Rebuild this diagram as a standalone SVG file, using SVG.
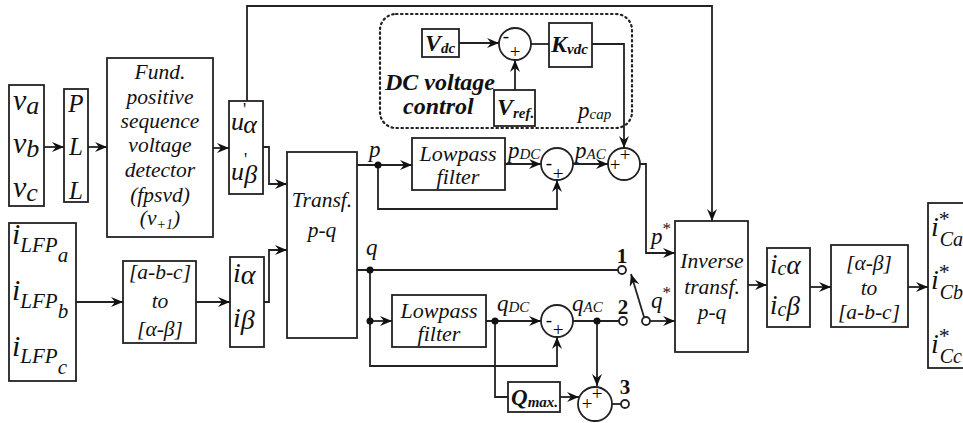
<svg xmlns="http://www.w3.org/2000/svg" width="963" height="423" viewBox="0 0 963 423">
<style>
.bx{fill:none;stroke:#222;stroke-width:1.8}
.ln{fill:none;stroke:#222;stroke-width:1.8}
.ar{marker-end:url(#ah)}
.sm{fill:#fff;stroke:#222;stroke-width:1.8}
.dot{fill:#111}
.t{font-family:'Liberation Serif','DejaVu Serif',serif;font-style:italic;fill:#111}
.n{font-style:normal}
.c{text-anchor:middle}
.b{font-weight:bold}
.sg{font-family:'Liberation Serif','DejaVu Serif',serif;fill:#000;font-size:19px;text-anchor:middle}
</style>
<defs>
<marker id="ah" viewBox="0 0 12 10" refX="12" refY="5" markerWidth="13" markerHeight="10" orient="auto" markerUnits="userSpaceOnUse">
<path d="M0,0 L12,5 L0,10 L4,5 z" fill="#111"/>
</marker>
</defs>
<rect width="963" height="423" fill="#fff"/>

<g id="connectors">
<path class="ln ar" d="M44,147 H64"/>
<path class="ln ar" d="M88,147 H107"/>
<path class="ln ar" d="M213,148 H229"/>
<path class="ln ar" d="M247,101 V6 H712 V221"/>
<path class="ln ar" d="M263,147 H269 V184 H287"/>
<path class="ln ar" d="M76,302 H123"/>
<path class="ln ar" d="M196,302 H230"/>
<path class="ln ar" d="M264,302 H269 V250 H287"/>
<path class="ln ar" d="M357,165 H412"/>
<path class="ln ar" d="M378,165 V209 H557 V180"/>
<path class="ln ar" d="M505,164 H541"/>
<path class="ln ar" d="M573,164 H608"/>
<path class="ln ar" d="M459,43 H499"/>
<path class="ln ar" d="M515,90 V60"/>
<path class="ln" d="M531,44 H549"/>
<path class="ln ar" d="M592,44 H624 V148"/>
<path class="ln ar" d="M640,164 H646 V253 H675"/>
<path class="ln" d="M357,270 H618"/>
<path class="ln ar" d="M370,270 V366 H557 V337"/>
<path class="ln ar" d="M370,321 H392"/>
<path class="ln ar" d="M486,321 H541"/>
<path class="ln" d="M495,321 V397 H508"/>
<path class="ln ar" d="M560,397 H579"/>
<path class="ln" d="M573,321 H619"/>
<path class="ln ar" d="M597,321 V386"/>
<path class="ln" d="M612,404 H621"/>
<path class="ln ar" d="M644,317 L631,274"/>
<path class="ln ar" d="M650,321 H675"/>
<path class="ln ar" d="M748,285 H767"/>
<path class="ln ar" d="M810,287 H831"/>
<path class="ln ar" d="M908,287 H928"/>
<circle class="dot" cx="378" cy="165" r="3.5"/>
<circle class="dot" cx="370" cy="270" r="3.5"/>
<circle class="dot" cx="370" cy="321" r="3.5"/>
<circle class="dot" cx="495" cy="321" r="3.5"/>
<circle class="dot" cx="597" cy="321" r="3.5"/>
<text class="t" x="369" y="157" font-size="23">p</text>
<text class="t" x="366" y="255" font-size="23">q</text>
<text class="t" x="508" y="158" font-size="23">p<tspan font-size="15" dy="1">DC</tspan></text>
<text class="t" x="575" y="158" font-size="23">p<tspan font-size="15" dy="1">AC</tspan></text>
<text class="t" x="578" y="118" font-size="23">p<tspan font-size="15" dy="1">cap</tspan></text>
<text class="t" x="497" y="311" font-size="23">q<tspan font-size="15" dy="1">DC</tspan></text>
<text class="t" x="572" y="311" font-size="23">q<tspan font-size="15" dy="1">AC</tspan></text>
<text class="t" x="651" y="244" font-size="23">p<tspan class="n" font-size="17" dy="-10">*</tspan></text>
<text class="t" x="651" y="308" font-size="23">q<tspan class="n" font-size="17" dy="-10">*</tspan></text>
</g>

<g id="n_vabc">
<rect class="bx" x="9" y="85" width="35" height="121"/>
<text class="t" x="13" y="110" font-size="30">v<tspan font-size="26" dy="4">a</tspan></text>
<text class="t" x="13" y="153" font-size="30">v<tspan font-size="26" dy="4">b</tspan></text>
<text class="t" x="13" y="197" font-size="30">v<tspan font-size="26" dy="4">c</tspan></text>
</g>

<g id="n_pll">
<rect class="bx" x="64" y="89" width="24" height="113"/>
<text class="t c" x="76" y="112" font-size="25">P</text>
<text class="t c" x="76" y="155" font-size="25">L</text>
<text class="t c" x="76" y="199" font-size="25">L</text>
</g>

<g id="n_fpsvd">
<rect class="bx" x="107" y="58" width="106" height="179"/>
<text class="t c" x="160" y="79" font-size="21.5">Fund.</text>
<text class="t c" x="160" y="104" font-size="21.5">positive</text>
<text class="t c" x="160" y="128" font-size="21.5">sequence</text>
<text class="t c" x="160" y="152" font-size="21.5">voltage</text>
<text class="t c" x="160" y="177" font-size="21.5">detector</text>
<text class="t c" x="160" y="202" font-size="21.5">(fpsvd)</text>
<text class="t c" x="160" y="225" font-size="21.5">(v<tspan font-size="14" dy="4">+1</tspan><tspan dy="-4">)</tspan></text>
</g>

<g id="n_ualpha">
<rect class="bx" x="229" y="101" width="34" height="93"/>
<text class="t" x="231" y="130" font-size="26">u<tspan class="n" font-size="18" dx="-1" dy="-14">'</tspan><tspan dx="-3" dy="17">α</tspan></text>
<text class="t" x="231" y="180" font-size="26">u<tspan class="n" font-size="18" dx="0" dy="-14">'</tspan><tspan dx="-3" dy="17">β</tspan></text>
</g>

<g id="n_ilfp">
<rect class="bx" x="9" y="223" width="67" height="158"/>
<text class="t" x="12" y="244" font-size="30">i<tspan font-size="21" dy="8">LFP</tspan><tspan font-size="21" dy="10">a</tspan></text>
<text class="t" x="12" y="300" font-size="30">i<tspan font-size="21" dy="8">LFP</tspan><tspan font-size="21" dy="10">b</tspan></text>
<text class="t" x="12" y="356" font-size="30">i<tspan font-size="21" dy="7">LFP</tspan><tspan font-size="21" dy="11">c</tspan></text>
</g>

<g id="n_abc2ab">
<rect class="bx" x="123" y="261" width="73" height="82"/>
<text class="t c" x="160" y="279" font-size="21.5">[a-b-c]</text>
<text class="t c" x="160" y="308" font-size="21.5">to</text>
<text class="t c" x="160" y="336" font-size="21.5">[α-β]</text>
</g>

<g id="n_ialpha">
<rect class="bx" x="230" y="257" width="34" height="90"/>
<text class="t" x="233" y="282" font-size="28">i<tspan dy="2">α</tspan></text>
<text class="t" x="233" y="327" font-size="28">i<tspan dy="2">β</tspan></text>
</g>

<g id="n_transf">
<rect class="bx" x="287" y="152" width="70" height="186"/>
<text class="t c" x="322" y="207" font-size="21.5">Transf.</text>
<text class="t c" x="322" y="237" font-size="21.5">p-q</text>
</g>

<g id="n_lpf_p">
<rect class="bx" x="412" y="138" width="93" height="52"/>
<text class="t c" x="458" y="161" font-size="22">Lowpass</text>
<text class="t c" x="458" y="184" font-size="22">filter</text>
</g>

<g id="n_sum_p1">
<circle class="sm" cx="557" cy="164" r="16"/>
<text class="sg" x="549" y="169">-</text>
<text class="sg" x="558" y="180">+</text>
</g>

<g id="n_sum_p2">
<circle class="sm" cx="624" cy="164" r="16"/>
<text class="sg" x="615" y="171">+</text>
<text class="sg" x="625" y="161">+</text>
</g>

<g id="n_dcctrl">
<rect x="380" y="14" width="252" height="114" rx="16" fill="none" stroke="#222" stroke-width="2.2" stroke-dasharray="1.5,3.5" stroke-linecap="round"/>
<text class="t b" x="385" y="90" font-size="24">DC voltage</text>
<text class="t b" x="403" y="114" font-size="24">control</text>
</g>

<g id="n_vdc">
<rect class="bx" x="422" y="29" width="37" height="28"/>
<text class="t b" x="425" y="51" font-size="24">V<tspan font-size="15" dy="2">dc</tspan></text>
</g>

<g id="n_sum_dc">
<circle class="sm" cx="515" cy="44" r="16"/>
<text class="sg" x="506" y="42">-</text>
<text class="sg" x="515" y="58">+</text>
</g>

<g id="n_kvdc">
<rect class="bx" x="549" y="23" width="43" height="44"/>
<text class="t b" x="551" y="52" font-size="24">K<tspan font-size="15" dy="2">vdc</tspan></text>
</g>

<g id="n_vref">
<rect class="bx" x="494" y="90" width="41" height="36"/>
<text class="t b" x="497" y="115" font-size="24">V<tspan font-size="15" dy="3">ref.</tspan></text>
</g>

<g id="n_lpf_q">
<rect class="bx" x="392" y="295" width="94" height="52"/>
<text class="t c" x="439" y="318" font-size="22">Lowpass</text>
<text class="t c" x="439" y="341" font-size="22">filter</text>
</g>

<g id="n_sum_q">
<circle class="sm" cx="557" cy="321" r="16"/>
<text class="sg" x="549" y="326">-</text>
<text class="sg" x="558" y="336">+</text>
</g>

<g id="n_qmax">
<rect class="bx" x="508" y="382" width="52" height="30"/>
<text class="t b" x="511" y="405" font-size="23">Q<tspan font-size="15" dy="2">max.</tspan></text>
</g>

<g id="n_sum_q3">
<circle class="sm" cx="595" cy="404" r="17"/>
<text class="sg" x="587" y="410">+</text>
<text class="sg" x="597" y="400">+</text>
</g>

<g id="n_switch">
<circle class="sm" cx="622" cy="270" r="4"/>
<circle class="sm" cx="623" cy="321" r="4"/>
<circle class="sm" cx="625" cy="404" r="4"/>
<circle class="sm" cx="646" cy="321" r="4"/>
<text class="t b n c" x="622" y="263" font-size="21">1</text>
<text class="t b n c" x="623" y="314" font-size="21">2</text>
<text class="t b n c" x="625" y="394" font-size="21">3</text>
</g>

<g id="n_inverse">
<rect class="bx" x="675" y="221" width="73" height="131"/>
<text class="t c" x="712" y="268" font-size="21.5">Inverse</text>
<text class="t c" x="712" y="294" font-size="21.5">transf.</text>
<text class="t c" x="712" y="319" font-size="21.5">p-q</text>
</g>

<g id="n_ic">
<rect class="bx" x="767" y="248" width="43" height="79"/>
<text class="t" x="770" y="273" font-size="27">i<tspan font-size="20" dy="2">c</tspan><tspan font-size="27" dy="-1">α</tspan></text>
<text class="t" x="770" y="314" font-size="27">i<tspan font-size="20" dy="2">c</tspan><tspan font-size="27" dy="-1">β</tspan></text>
</g>

<g id="n_istar">
<rect class="bx" x="928" y="203" width="60" height="165"/>
<text class="t" x="931" y="236" font-size="28">i<tspan class="n" font-size="22" dy="-10">*</tspan><tspan font-size="20" dx="-10" dy="20">Ca</tspan></text>
<text class="t" x="931" y="289" font-size="28">i<tspan class="n" font-size="22" dy="-10">*</tspan><tspan font-size="20" dx="-10" dy="20">Cb</tspan></text>
<text class="t" x="931" y="353" font-size="28">i<tspan class="n" font-size="22" dy="-10">*</tspan><tspan font-size="20" dx="-10" dy="20">Cc</tspan></text>
</g>

<g id="n_ab2abc">
<rect class="bx" x="831" y="245" width="77" height="82"/>
<text class="t c" x="869" y="270" font-size="21.5">[α-β]</text>
<text class="t c" x="869" y="295" font-size="21.5">to</text>
<text class="t c" x="869" y="319" font-size="21.5">[a-b-c]</text>
</g>
</svg>
